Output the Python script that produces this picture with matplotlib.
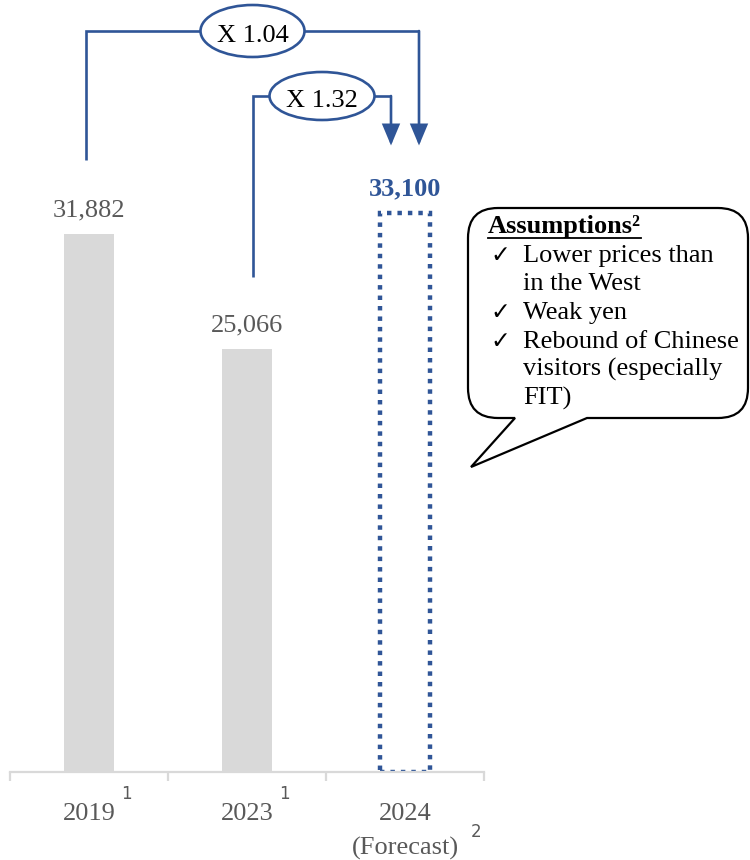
import matplotlib
matplotlib.use("Agg")
import matplotlib.pyplot as plt
from matplotlib.patches import Ellipse, PathPatch, FancyArrowPatch
from matplotlib.path import Path
from matplotlib.lines import Line2D

# ---- data -------------------------------------------------------------
years = ["2019", "2023", "2024"]
year_subtitles = ["", "", "(Forecast)"]
year_notes = ["1", "1", "2"]
visitors = [31882, 25066, 33100]
value_labels = ["31,882", "25,066", "33,100"]
growth_labels = ["X 1.04", "X 1.32"]          # 2019 -> 2024, 2023 -> 2024
assumption_title = "Assumptions\u00b2"
assumption_lines = [
    ("\u2713", "Lower prices than"),
    ("", "in the West"),
    ("\u2713", "Weak yen"),
    ("\u2713", "Rebound of Chinese"),
    ("", "visitors (especially"),
    ("", "FIT)"),
]

# ---- style ------------------------------------------------------------
SERIF = ["Liberation Serif", "DejaVu Serif"]
MIXED = ["Liberation Serif", "DejaVu Sans"]
GRAY = "#595959"
BAR_GRAY = "#D9D9D9"
BLUE = "#2F5597"
FS = 19

W, H = 750, 860
fig = plt.figure(figsize=(W / 100, H / 100), dpi=100)
fig.patch.set_facecolor("white")

# axes: baseline 88 px above the bottom edge, running to the top of the canvas
ax = fig.add_axes([10 / W, 88 / H, 474 / W, 772 / H])
YMAX = 45750
ax.set_xlim(-0.5, 2.5)
ax.set_ylim(0, YMAX)
upx = YMAX / 772.0            # data units per pixel (vertical)
xpx = 1.0 / 158.0             # data units per pixel (horizontal)

x = list(range(len(years)))
BAR_W = 0.316

# actual years: solid grey bars; forecast: dotted outline
ax.bar(x[:2], visitors[:2], width=BAR_W, color=BAR_GRAY, zorder=2)
ax.bar(x[2], visitors[2], width=BAR_W, fill=False, edgecolor=BLUE,
       linewidth=3.2, linestyle=(0, (1, 1.35)), zorder=2)

# axis cosmetics
for s in ("left", "right", "top"):
    ax.spines[s].set_visible(False)
ax.spines["bottom"].set_color(BAR_GRAY)
ax.spines["bottom"].set_linewidth(1.6)
ax.set_yticks([])
ax.set_xticks(x)
ax.set_xticklabels([])
ax.tick_params(axis="x", which="major", length=0)
ax.set_xticks([-0.5, 0.5, 1.5, 2.5], minor=True)
ax.tick_params(axis="x", which="minor", length=6.5, width=1.6, color=BAR_GRAY)

# value labels above the bars
for i, (v, lab) in enumerate(zip(visitors, value_labels)):
    forecast = i == 2
    ax.annotate(lab, xy=(i, v), xytext=(0, 18), textcoords="offset pixels",
                ha="center", va="baseline", fontsize=FS, family=SERIF,
                color=BLUE if forecast else GRAY,
                fontweight="bold" if forecast else "normal",
                annotation_clip=False)

# category labels with footnote markers
for i, (yr, sub, note) in enumerate(zip(years, year_subtitles, year_notes)):
    ax.annotate(yr, xy=(i, 0), xycoords=("data", "axes fraction"),
                xytext=(0, -48), textcoords="offset pixels",
                ha="center", va="baseline", fontsize=FS, family=SERIF,
                color=GRAY, annotation_clip=False)
    if sub:
        ax.annotate(sub, xy=(i, 0), xycoords=("data", "axes fraction"),
                    xytext=(0, -83), textcoords="offset pixels",
                    ha="center", va="baseline", fontsize=FS, family=SERIF,
                    color=GRAY, annotation_clip=False)
        ax.annotate(note, xy=(i, 0), xycoords=("data", "axes fraction"),
                    xytext=(71, -65), textcoords="offset pixels",
                    ha="center", va="baseline", fontsize=12,
                    family="DejaVu Sans", color=GRAY, annotation_clip=False)
    else:
        ax.annotate(note, xy=(i, 0), xycoords=("data", "axes fraction"),
                    xytext=(37, -27), textcoords="offset pixels",
                    ha="center", va="baseline", fontsize=12,
                    family="DejaVu Sans", color=GRAY, annotation_clip=False)


# growth-factor brackets
def bracket(x_start, y_start, y_top, x_end, y_tip, label, ell_w, ell_h):
    ax.plot([x_start, x_start, x_end], [y_start, y_top, y_top], color=BLUE,
            lw=1.9, solid_joinstyle="miter", solid_capstyle="butt",
            clip_on=False, zorder=3)
    arr = FancyArrowPatch((x_end, y_top), (x_end, y_tip),
                          arrowstyle="-|>,head_length=0.62,head_width=0.26",
                          mutation_scale=20, color=BLUE, lw=1.9,
                          shrinkA=0, shrinkB=0, joinstyle="miter",
                          clip_on=False, zorder=3)
    ax.add_patch(arr)
    cx = (x_start + x_end) / 2.0
    ax.add_patch(Ellipse((cx, y_top), ell_w, ell_h, facecolor="white",
                         edgecolor=BLUE, lw=1.9, clip_on=False, zorder=4))
    ax.annotate(label, xy=(cx, y_top), xytext=(0, -11),
                textcoords="offset pixels", ha="center", va="baseline",
                fontsize=FS, family=SERIF, color="black", zorder=5,
                annotation_clip=False)


tip = visitors[2] + 68 * upx
bracket(x[0] - 3 * xpx, visitors[0] + 74 * upx, YMAX - 31 * upx,
        x[2] + 14 * xpx, tip, growth_labels[0], 104 * xpx, 52 * upx)
bracket(x[1] + 6 * xpx, visitors[1] + 72 * upx, YMAX - 96 * upx,
        x[2] - 14 * xpx, tip, growth_labels[1], 105 * xpx, 48 * upx)


# ---- callout bubble (pixel coordinates, origin top-left) --------------
def fx(px):
    return px / W


def fy(py):
    return 1 - py / H


L, R, T, B, r = 468, 748, 208, 418, 30
pts = [
    (L + r, T), (R - r, T), (R, T), (R, T + r), (R, B - r), (R, B),
    (R - r, B), (587, B), (471, 467), (515, B), (L + r, B), (L, B),
    (L, B - r), (L, T + r), (L, T), (L + r, T), (L + r, T),
]
codes = [
    Path.MOVETO, Path.LINETO, Path.CURVE3, Path.CURVE3, Path.LINETO,
    Path.CURVE3, Path.CURVE3, Path.LINETO, Path.LINETO, Path.LINETO,
    Path.LINETO, Path.CURVE3, Path.CURVE3, Path.LINETO, Path.CURVE3,
    Path.CURVE3, Path.CLOSEPOLY,
]
bubble = Path([(fx(a), fy(b)) for a, b in pts], codes)
fig.patches.append(PathPatch(bubble, transform=fig.transFigure,
                             facecolor="white", edgecolor="black", lw=1.6,
                             joinstyle="miter", zorder=5))

title = fig.text(fx(488), fy(233), assumption_title, ha="left",
                 va="baseline", fontsize=FS, family=SERIF,
                 fontweight="bold", color="black", zorder=6)
for k, (mark, line) in enumerate(assumption_lines):
    base = 262 + k * 28.5
    if mark:
        fig.text(fx(490), fy(base), mark, ha="left", va="baseline",
                 fontsize=17, family=MIXED, color="black", zorder=6)
    fig.text(fx(523), fy(base), line, ha="left", va="baseline",
             fontsize=FS, family=SERIF, color="black", zorder=6)

# underline the bubble heading
fig.canvas.draw()
bb = title.get_window_extent(renderer=fig.canvas.get_renderer())
fig.lines.append(Line2D([bb.x0 / W, bb.x1 / W], [fy(238), fy(238)],
                        transform=fig.transFigure, color="black", lw=1.3,
                        zorder=6))

fig.savefig("out.png", dpi=100, facecolor="white")
